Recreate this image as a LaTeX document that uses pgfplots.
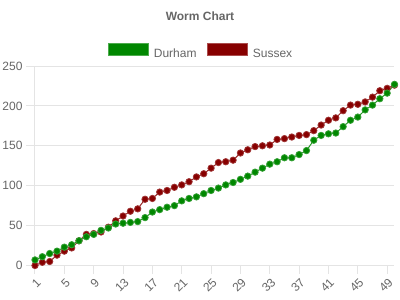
\documentclass[border=0pt]{standalone}
\usepackage{pgfplots}
\pgfplotsset{compat=1.18}
\usepackage{fontspec}
\setmainfont{Liberation Sans}
\definecolor{cgreen}{RGB}{0,135,0}
\definecolor{cred}{RGB}{135,0,0}
\definecolor{cgrid}{RGB}{228,228,228}
\definecolor{ctext}{RGB}{102,102,102}
\pgfplotstableread{
x y
1 7
2 11
3 15
4 18
5 23
6 26
7 31
8 36
9 39
10 44
11 47
12 52
13 53
14 54
15 55
16 60
17 67
18 70
19 73
20 75
21 81
22 84
23 86
24 90
25 94
26 97
27 101
28 104
29 108
30 112
31 117
32 122
33 127
34 130
35 135
36 135
37 139
38 144
39 157
40 163
41 165
42 166
43 174
44 182
45 186
46 195
47 201
48 209
49 216
50 227
}\durham
\pgfplotstableread{
x y
1 0
2 4
3 5
4 13
5 18
6 22
7 31
8 39
9 40
10 42
11 48
12 56
13 62
14 68
15 71
16 83
17 84
18 92
19 94
20 98
21 101
22 105
23 111
24 115
25 122
26 129
27 130
28 132
29 141
30 145
31 149
32 150
33 151
34 158
35 159
36 161
37 163
38 164
39 169
40 176
41 182
42 185
43 194
44 201
45 202
46 205
47 211
48 219
49 222
50 226
}\sussex
\begin{document}
\begin{tikzpicture}
\useasboundingbox (0,0) rectangle (400pt,300pt);
\fill[white] (0,0) rectangle (400pt,300pt);
\begin{axis}[
  at={(35pt,34.5pt)}, anchor=south west,
  scale only axis, width=359.5pt, height=199.5pt,
  xmin=1, xmax=50, ymin=0, ymax=250,
  clip=false,
  axis x line*=bottom, axis y line*=left,
  axis line style={cgrid, line width=1pt, -},
  xtick={1,5,...,49}, ytick={0,50,...,250},
  ymajorgrids, grid style={cgrid, line width=1pt},
  tick align=outside, major tick length=8.5pt,
  tick style={cgrid, line width=1pt},
  /pgf/number format/assume math mode=true,
  tick label style={font=\fontsize{12}{14}\selectfont, text=ctext},
  yticklabel style={anchor=east, inner sep=0pt, xshift=-3.8pt},
  xticklabel style={xshift=3.7pt, yshift=-6.3pt, rotate=45, anchor=east, inner sep=0pt},
  title={\textbf{Worm Chart}},
  title style={at={(0.459,1.219)}, anchor=center, font=\fontsize{12}{14}\selectfont, text=ctext},
  legend columns=2, reverse legend,
  legend style={at={(0.4587,1.0752)}, anchor=center, draw=none, fill=none,
    font=\fontsize{12}{14}\selectfont, text=ctext,
    nodes={inner sep=0pt},
    /tikz/column sep=5.5pt,
    /tikz/every even column/.append style={column sep=10pt}},
]
\addplot[cred!85!white, line width=1pt, mark=*, mark size=3.2pt,
  mark options={fill=cred, draw=cred!80!white, line width=0.8pt},
  legend image code/.code={\draw[draw=cred!70!white, fill=cred, line width=0.8pt] (0pt,-2pt) rectangle (40pt,10pt);}]
  table[x=x,y=y]{\sussex};
\addlegendentry{Sussex}
\addplot[cgreen!85!white, line width=1pt, mark=*, mark size=3.2pt,
  mark options={fill=cgreen, draw=cgreen!80!white, line width=0.8pt},
  legend image code/.code={\draw[draw=cgreen!70!white, fill=cgreen, line width=0.8pt] (0pt,-2pt) rectangle (40pt,10pt);}]
  table[x=x,y=y]{\durham};
\addlegendentry{Durham}
\end{axis}
\end{tikzpicture}
\end{document}
